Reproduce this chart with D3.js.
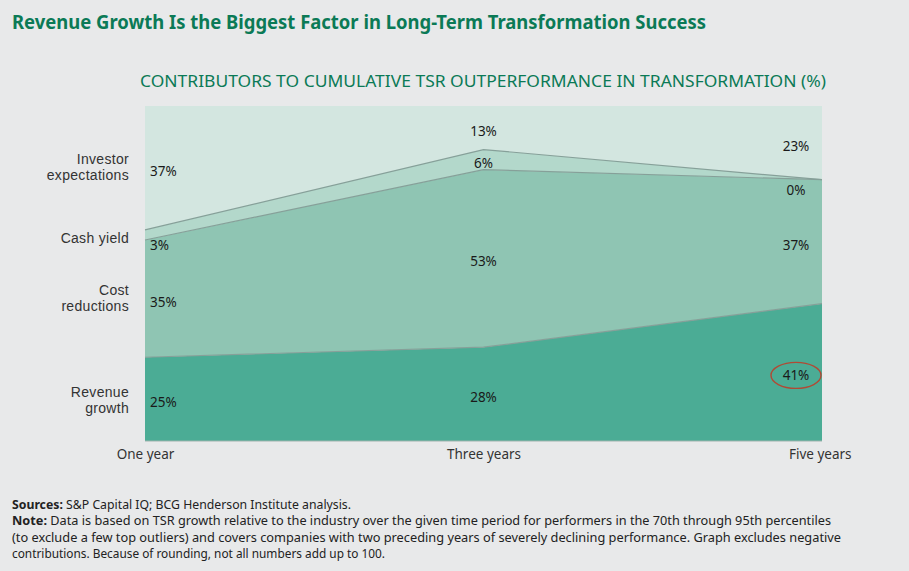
<!DOCTYPE html>
<html>
<head>
<meta charset="utf-8">
<script src="https://cdn.jsdelivr.net/npm/d3@7"></script>
<style>
  html, body { margin: 0; padding: 0; background: #e8e9ea; }
  svg { display: block; font-family: "Noto Sans", "Open Sans", sans-serif; }
</style>
</head>
<body>
<div id="chart"></div>
<script>
// periods along the x axis
const periods = ["One year", "Three years", "Five years"];

// contributions per period (%), stacked bottom to top
const revenueGrowth = [25, 28, 41];
const costReductions = [35, 53, 37];
const cashYield = [3, 6, 0];
const investorExpectations = [37, 13, 23];

const seriesNames = ["Revenue growth", "Cost reductions", "Cash yield", "Investor expectations"];
const seriesLabels = [["Revenue", "growth"], ["Cost", "reductions"], ["Cash yield"], ["Investor", "expectations"]];
const seriesColors = ["#4bac95", "#8fc5b3", "#b3d8cb", "#d3e6e0"];

const footnotes = [
    ["Sources:", " S&P Capital IQ; BCG Henderson Institute analysis."],
    ["Note:", " Data is based on TSR growth relative to the industry over the given time period for performers in the 70th through 95th percentiles"],
    ["", "(to exclude a few top outliers) and covers companies with two preceding years of severely declining performance. Graph excludes negative"],
    ["", "contributions. Because of rounding, not all numbers add up to 100."]
];
const footWidths = [339, 819, 829, 373];

const width = 909, height = 571;
const margin = { top: 106, right: 87, bottom: 130, left: 145 };

const svg = d3.select("#chart").append("svg")
    .attr("width", width)
    .attr("height", height);

// titles
svg.append("text")
    .attr("x", 12).attr("y", 29)
    .attr("font-size", 19).attr("font-weight", "bold")
    .attr("fill", "#0b7a56")
    .attr("textLength", 694).attr("lengthAdjust", "spacingAndGlyphs")
    .text("Revenue Growth Is the Biggest Factor in Long-Term Transformation Success");

svg.append("text")
    .attr("x", 140).attr("y", 87)
    .attr("font-size", 16.5)
    .attr("fill", "#0b7a56")
    .attr("textLength", 686).attr("lengthAdjust", "spacingAndGlyphs")
    .text("CONTRIBUTORS TO CUMULATIVE TSR OUTPERFORMANCE IN TRANSFORMATION (%)");

// data table for the stack
const table = periods.map((p, i) => ({
    period: p,
    "Revenue growth": revenueGrowth[i],
    "Cost reductions": costReductions[i],
    "Cash yield": cashYield[i],
    "Investor expectations": investorExpectations[i]
}));

const stacked = d3.stack().keys(seriesNames)(table);

const x = d3.scalePoint()
    .domain(periods)
    .range([margin.left, width - margin.right]);

const y = d3.scaleLinear()
    .domain([0, 100])
    .range([height - margin.bottom, margin.top])
    .clamp(true);

const area = d3.area()
    .x(d => x(d.data.period))
    .y0(d => y(d[0]))
    .y1(d => y(d[1]));

// layers
svg.append("g")
    .selectAll("path")
    .data(stacked)
    .enter()
    .append("path")
    .attr("d", area)
    .attr("fill", (d, i) => seriesColors[i]);

// boundary lines between layers
const line = d3.line()
    .x(d => x(d.data.period))
    .y(d => y(d[1]));

svg.append("g")
    .selectAll("path")
    .data(stacked.slice(0, 3))
    .enter()
    .append("path")
    .attr("d", line)
    .attr("fill", "none")
    .attr("stroke", "#86a099")
    .attr("stroke-width", 1.2);

// baseline
svg.append("line")
    .attr("x1", x(periods[0])).attr("x2", x(periods[2]))
    .attr("y1", y(0)).attr("y2", y(0))
    .attr("stroke", "#9fb3ad").attr("stroke-width", 1);

// value labels in each layer
const labelX = [x(periods[0]) + 5, x(periods[1]), x(periods[2]) - 26];
const labelAnchor = ["start", "middle", "middle"];

stacked.forEach((layer, li) => {
    svg.append("g")
        .selectAll("text")
        .data(layer)
        .enter()
        .append("text")
        .attr("x", (d, i) => labelX[i])
        .attr("y", d => {
            const v = d[1] - d[0];
            const mid = (y(d[0]) + y(Math.min(d[1], 100))) / 2;
            return v < 5 ? mid + 10 : mid + 3;
        })
        .attr("text-anchor", (d, i) => labelAnchor[i])
        .attr("dominant-baseline", "central")
        .attr("font-size", 13.5)
        .attr("fill", "#1a1a1a")
        .text(d => (d[1] - d[0]) + "%");
});

// highlight on five-year revenue growth
const hl = stacked[0][2];
svg.append("ellipse")
    .attr("cx", labelX[2])
    .attr("cy", (y(hl[0]) + y(hl[1])) / 2 + 3)
    .attr("rx", 25).attr("ry", 13)
    .attr("fill", "none")
    .attr("stroke", "#b04a35")
    .attr("stroke-width", 1.4);

// series names on the left, one text per line
const leftLabelY = [400, 298, 238, 167];
seriesLabels.forEach((lines, i) => {
    const y0 = leftLabelY[i] - (lines.length - 1) * 8;
    lines.forEach((ln, j) => {
        svg.append("text")
            .attr("x", 129)
            .attr("y", y0 + j * 16)
            .attr("text-anchor", "end")
            .attr("dominant-baseline", "central")
            .attr("font-family", "Liberation Sans, Arial, sans-serif")
            .attr("font-size", 14)
            .attr("letter-spacing", 0.3)
            .attr("fill", "#333")
            .text(ln);
    });
});

// x axis labels
const xAxis = d3.axisBottom(x).tickSize(0).tickPadding(8);
const gx = svg.append("g")
    .attr("transform", `translate(0,${y(0)})`)
    .call(xAxis);
gx.select(".domain").remove();
gx.selectAll("text")
    .attr("font-size", 13.5)
    .attr("font-family", "Noto Sans, sans-serif")
    .attr("fill", "#333")
    .attr("text-anchor", (d, i) => i === 2 ? "end" : "middle")
    .attr("dx", (d, i) => i === 2 ? 29 : 0);

// footnotes
footnotes.forEach((f, i) => {
    const t = svg.append("text")
        .attr("x", 12)
        .attr("y", 509 + i * 16.3)
        .attr("font-size", 12.3)
        .attr("fill", "#222")
        .attr("textLength", footWidths[i])
        .attr("lengthAdjust", "spacingAndGlyphs");
    if (f[0]) t.append("tspan").attr("font-weight", "bold").text(f[0]);
    t.append("tspan").text(f[1]);
});
</script>
</body>
</html>
